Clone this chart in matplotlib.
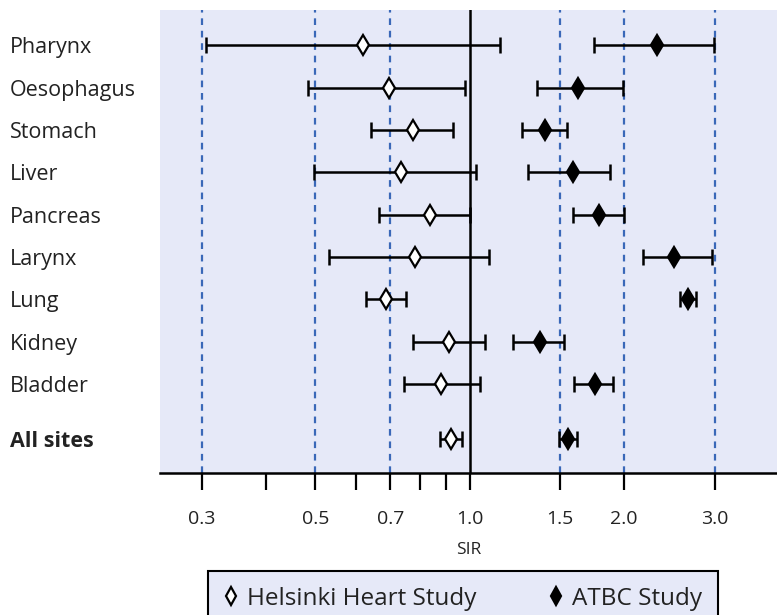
import matplotlib
matplotlib.use("Agg")
import matplotlib.pyplot as plt
from matplotlib.lines import Line2D
import numpy as np

plt.rcParams['font.family'] = ['Open Sans', 'DejaVu Sans']

sites = ["Pharynx", "Oesophagus", "Stomach", "Liver", "Pancreas", "Larynx",
         "Lung", "Kidney", "Bladder", "All sites"]

hhs_sir = [0.62, 0.695, 0.774, 0.733, 0.836, 0.782, 0.688, 0.911, 0.880, 0.918]
hhs_lo  = [0.306, 0.484, 0.642, 0.498, 0.665, 0.532, 0.629, 0.775, 0.746, 0.876]
hhs_hi  = [1.146, 0.977, 0.929, 1.027, 1.000, 1.090, 0.750, 1.069, 1.046, 0.965]

atbc_sir = [2.317, 1.627, 1.399, 1.589, 1.789, 2.498, 2.666, 1.369, 1.751, 1.553]
atbc_lo  = [1.745, 1.352, 1.263, 1.297, 1.586, 2.176, 2.567, 1.216, 1.595, 1.490]
atbc_hi  = [2.990, 1.986, 1.547, 1.875, 1.997, 2.963, 2.763, 1.528, 1.901, 1.618]

ref_lines = [0.3, 0.5, 0.7, 1.5, 2.0, 3.0]
major_ticks = [0.3, 0.5, 0.7, 1.0, 1.5, 2.0, 3.0]
major_labels = ["0.3", "0.5", "0.7", "1.0", "1.5", "2.0", "3.0"]
minor_ticks = [0.4, 0.6, 0.8, 0.9]

bg = "#E6E9F8"
blue = "#3A68B8"
txt = "#222222"

fig = plt.figure(figsize=(7.77, 6.15), dpi=100)
ax = fig.add_axes([160/777, 1 - 473/615, 1 - 160/777, (473 - 10)/615])
ax.set_facecolor(bg)

n = len(sites)
ypos = np.arange(n, dtype=float)
ypos[-1] += 0.3

ax.set_xscale('log')
ax.set_xlim(0.249, 3.97)
ax.set_ylim(ypos[-1] + 0.8, -0.83)

for v in ref_lines:
    ax.axvline(v, color=blue, lw=1.6, ls=(0, (3, 2.6)), zorder=1)
ax.axvline(1.0, color='black', lw=1.8, zorder=2)

def draw(sir, lo, hi, face):
    sir = np.array(sir); lo = np.array(lo); hi = np.array(hi)
    ax.errorbar(sir, ypos, xerr=[sir - lo, hi - sir], fmt='none',
                ecolor='black', elinewidth=1.8, capsize=6, capthick=1.8, zorder=3)
    ax.plot(sir, ypos, ls='none', marker='d', markersize=10.5,
            markerfacecolor=face, markeredgecolor='black', markeredgewidth=1.6, zorder=4)

draw(hhs_sir, hhs_lo, hhs_hi, 'white')
draw(atbc_sir, atbc_lo, atbc_hi, 'black')

ax.set_yticks(ypos)
ax.set_yticklabels(sites, fontsize=15.5, color=txt)
for lbl in ax.get_yticklabels():
    lbl.set_horizontalalignment('left')
    if lbl.get_text() == "All sites":
        lbl.set_fontweight('bold')
ax.tick_params(axis='y', length=0, pad=108)

ax.xaxis.set_major_locator(matplotlib.ticker.FixedLocator(major_ticks))
ax.xaxis.set_major_formatter(matplotlib.ticker.FixedFormatter(major_labels))
ax.xaxis.set_minor_locator(matplotlib.ticker.FixedLocator(minor_ticks))
ax.xaxis.set_minor_formatter(matplotlib.ticker.NullFormatter())
ax.tick_params(axis='x', which='both', direction='out', length=12, width=1.6,
               labelsize=14, labelcolor=txt, pad=15)

for s in ['top', 'left', 'right']:
    ax.spines[s].set_visible(False)
ax.spines['bottom'].set_linewidth(1.8)

ax.set_xlabel("SIR", fontsize=12.5, color=txt, labelpad=10)

handles = [
    Line2D([], [], ls='none', marker='d', markersize=9, markerfacecolor='white',
           markeredgecolor='black', markeredgewidth=1.6),
    Line2D([], [], ls='none', marker='d', markersize=9, markerfacecolor='black',
           markeredgecolor='black', markeredgewidth=1.6),
]
leg = fig.legend(handles, ["Helsinki Heart Study", "ATBC Study"], loc='upper center',
                 bbox_to_anchor=(463/777, 1 - 571/615), ncol=2, frameon=True,
                 fontsize=17.5, handlelength=0.6, handletextpad=0.35, columnspacing=3.0,
                 borderpad=0.65, borderaxespad=0, fancybox=False, edgecolor='black', facecolor=bg)
leg.get_frame().set_linewidth(1.5)
leg.get_frame().set_alpha(1)
for t in leg.get_texts():
    t.set_color(txt)

fig.savefig("out.png", dpi=100)
